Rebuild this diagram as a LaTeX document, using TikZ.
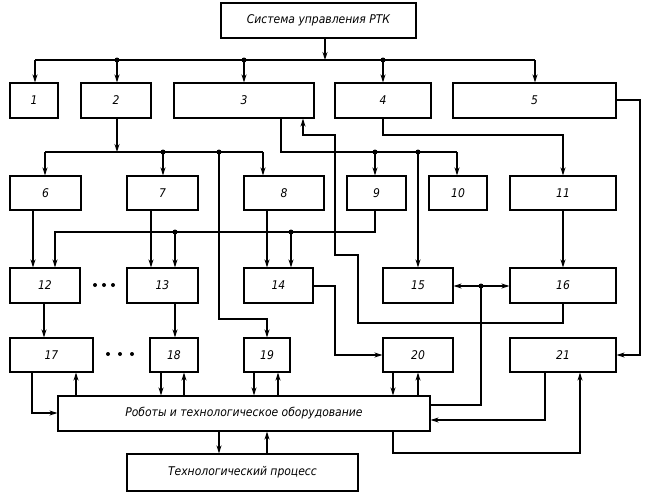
\documentclass[tikz,border=0pt]{standalone}
\usepackage{fontspec}
\setmainfont{DejaVu Sans Condensed}
\usetikzlibrary{arrows.meta}
\begin{document}
\begin{tikzpicture}[x=1pt,y=-1pt,
  box/.style={draw,line width=1.1pt,inner sep=0pt,font=\itshape\fontsize{12}{14}\selectfont},
  ln/.style={line width=1.1pt},
  ar/.style={ln,-{Stealth[length=8pt,width=5pt]}},
  dar/.style={ln,{Stealth[length=8pt,width=5pt]}-{Stealth[length=8pt,width=5pt]}},
  dot/.style={circle,fill,inner sep=0pt,minimum size=5pt}]
\useasboundingbox (0,0) rectangle (645,496);
\newcommand\bx[6]{\node[box,minimum width={(#4-#2)*1pt},minimum height={(#5-#3)*1pt}] (#1) at ({(#2+#4)/2},{(#3+#5)/2}) {#6};}
\bx{top}{221}{3}{416}{38}{Система управления РТК}
\bx{b1}{10}{83}{58}{118}{1}
\bx{b2}{81}{83}{151}{118}{2}
\bx{b3}{174}{83}{314}{118}{3}
\bx{b4}{335}{83}{431}{118}{4}
\bx{b5}{453}{83}{616}{118}{5}
\bx{b6}{10}{176}{81}{210}{6}
\bx{b7}{127}{176}{198}{210}{7}
\bx{b8}{244}{176}{324}{210}{8}
\bx{b9}{347}{176}{406}{210}{9}
\bx{b10}{429}{176}{487}{210}{10}
\bx{b11}{510}{176}{616}{210}{11}
\bx{b12}{10}{268}{80}{303}{12}
\bx{b13}{127}{268}{198}{303}{13}
\bx{b14}{244}{268}{313}{303}{14}
\bx{b15}{383}{268}{453}{303}{15}
\bx{b16}{510}{268}{616}{303}{16}
\bx{b17}{10}{338}{93}{372}{17}
\bx{b18}{150}{338}{198}{372}{18}
\bx{b19}{244}{338}{290}{372}{19}
\bx{b20}{383}{338}{453}{372}{20}
\bx{b21}{510}{338}{616}{372}{21}
\bx{rob}{58}{396}{430}{431}{Роботы и технологическое оборудование}
\bx{tp}{127}{454}{358}{491}{Технологический процесс}
\foreach \x in {95,104,113}{\node[dot,minimum size=4pt] at (\x,285) {};}
\foreach \x in {108,120,132}{\node[dot,minimum size=4pt] at (\x,354) {};}
% top bus
\draw[ar] (325,0 |- top.south) -- (325,60);
\draw[ln] (35,60) -- (535,60);
\foreach \x/\n in {35/b1,117/b2,244/b3,383/b4,535/b5}{\draw[ar] (\x,60) -- (\x,0 |- \n.north);}
\foreach \x in {117,244,383}{\node[dot] at (\x,60) {};}
% 2 -> bus2
\draw[ar] (117,0 |- b2.south) -- (117,152);
\draw[ln] (45,152) -- (263,152);
\foreach \x/\n in {45/b6,163/b7,263/b8}{\draw[ar] (\x,152) -- (\x,0 |- \n.north);}
\node[dot] at (163,152) {}; \node[dot] at (219,152) {};
\draw[ar] (219,152) -- (219,319) -- (267,319) -- (267,0 |- b19.north);
% 3 -> bus3
\draw[ln] (281,0 |- b3.south) -- (281,152) -- (457,152);
\draw[ar] (457,152) -- (457,0 |- b10.north);
\draw[ar] (375,152) -- (375,0 |- b9.north);
\node[dot] at (375,152) {}; \node[dot] at (418,152) {};
\draw[ar] (418,152) -- (418,0 |- b15.north);
% 16 -> 3
\draw[ar] (563,0 |- b16.south) -- (563,323) -- (358,323) -- (358,255) -- (335,255) -- (335,135) -- (303,135) -- (303,0 |- b3.south);
% 4 -> 11
\draw[ar] (383,0 |- b4.south) -- (383,135) -- (563,135) -- (563,0 |- b11.north);
% 5 -> 21
\draw[ar] (b5.east |- 0,100) -- (640,100) -- (640,355) -- (b21.east |- 0,355);
% 9 -> 12,13,14
\draw[ar] (375,0 |- b9.south) -- (375,232) -- (55,232) -- (55,0 |- b12.north);
\node[dot] at (175,232) {}; \node[dot] at (291,232) {};
\draw[ar] (175,232) -- (175,0 |- b13.north);
\draw[ar] (291,232) -- (291,0 |- b14.north);
\draw[ar] (33,0 |- b6.south) -- (33,0 |- b12.north);
\draw[ar] (151,0 |- b7.south) -- (151,0 |- b13.north);
\draw[ar] (267,0 |- b8.south) -- (267,0 |- b14.north);
\draw[ar] (563,0 |- b11.south) -- (563,0 |- b16.north);
% 14 -> 20
\draw[ar] (b14.east |- 0,286) -- (335,286) -- (335,355) -- (b20.west |- 0,355);
% 15 <-> 16
\draw[dar] (b15.east |- 0,286) -- (b16.west |- 0,286);
\node[dot] at (481,286) {};
\draw[ln] (481,286) -- (481,405) -- (rob.east |- 0,405);
% 12->17, 13->18
\draw[ar] (44,0 |- b12.south) -- (44,0 |- b17.north);
\draw[ar] (175,0 |- b13.south) -- (175,0 |- b18.north);
% 17 robots
\draw[ar] (32,0 |- b17.south) -- (32,413) -- (rob.west |- 0,413);
\draw[ar] (76,0 |- rob.north) -- (76,0 |- b17.south);
\draw[ar] (161,0 |- b18.south) -- (161,0 |- rob.north);
\draw[ar] (184,0 |- rob.north) -- (184,0 |- b18.south);
\draw[ar] (254,0 |- b19.south) -- (254,0 |- rob.north);
\draw[ar] (278,0 |- rob.north) -- (278,0 |- b19.south);
\draw[ar] (393,0 |- b20.south) -- (393,0 |- rob.north);
\draw[ar] (418,0 |- rob.north) -- (418,0 |- b20.south);
% 21
\draw[ar] (545,0 |- b21.south) -- (545,420) -- (rob.east |- 0,420);
\draw[ar] (393,0 |- rob.south) -- (393,453) -- (580,453) -- (580,0 |- b21.south);
% robots - process
\draw[ar] (219,0 |- rob.south) -- (219,0 |- tp.north);
\draw[ar] (267,0 |- tp.north) -- (267,0 |- rob.south);
\end{tikzpicture}
\end{document}
